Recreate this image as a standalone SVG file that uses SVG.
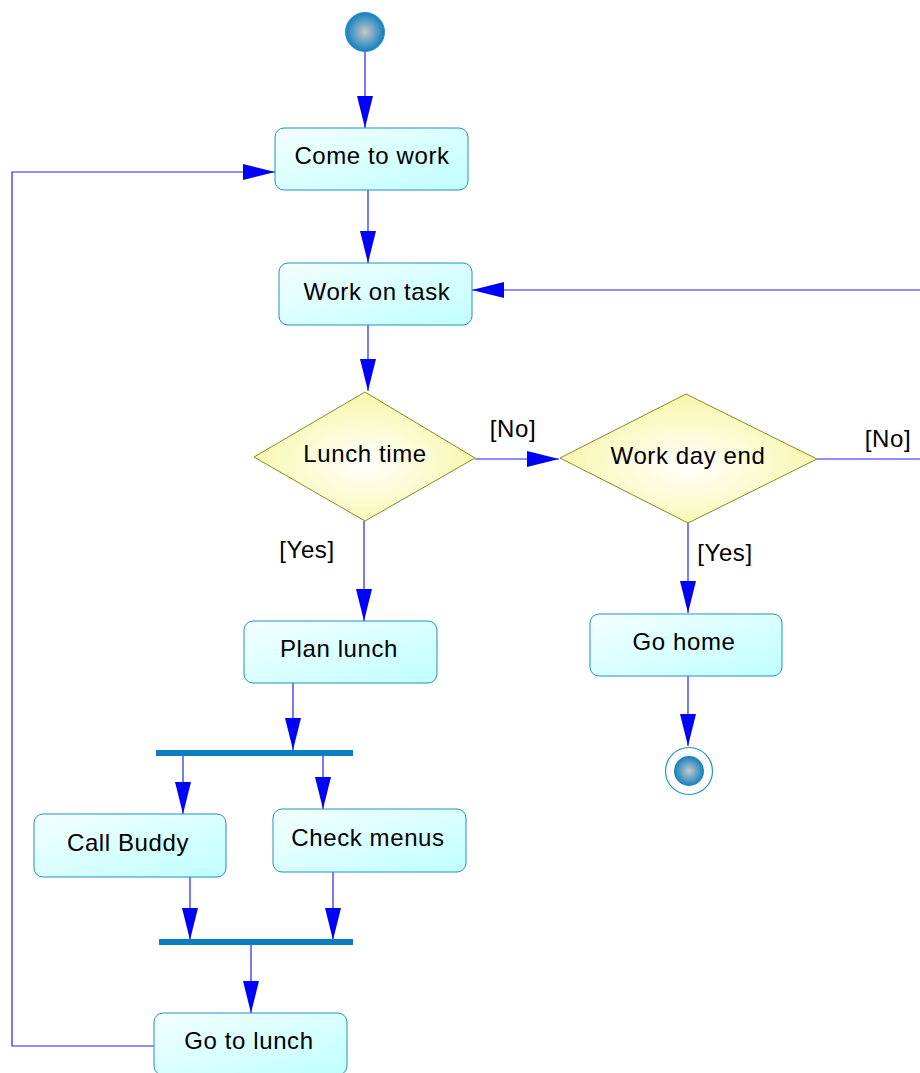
<svg xmlns="http://www.w3.org/2000/svg" width="920" height="1073" viewBox="0 0 920 1073">
<defs>
<linearGradient id="gNode" x1="0" y1="0" x2="1" y2="1">
<stop offset="0" stop-color="#f4ffff"/>
<stop offset="1" stop-color="#c0ffff"/>
</linearGradient>
<radialGradient id="gDia" cx="0.5" cy="0.55" r="0.5">
<stop offset="0" stop-color="#ffffff"/>
<stop offset="1" stop-color="#f8f8b0"/>
</radialGradient>
<radialGradient id="gBall" cx="0.5" cy="0.5" r="0.5">
<stop offset="0" stop-color="#c8c8c8"/>
<stop offset="1" stop-color="#1080c0"/>
</radialGradient>
<marker id="ah" viewBox="0 0 32 16" refX="32" refY="8" markerWidth="32" markerHeight="16" markerUnits="userSpaceOnUse" orient="auto">
<path d="M0,0 L32,8 L0,16 Z" fill="#0000ff"/>
</marker>
</defs>
<style>
.node rect{fill:url(#gNode);stroke:#2090c8;stroke-width:1}
.dia polygon{fill:url(#gDia);stroke:#8a8a20;stroke-width:1}
text{font-family:"Liberation Sans",Arial,sans-serif;font-size:24px;letter-spacing:0.6px;fill:#000;text-anchor:middle}
.conn path{fill:none;stroke:#2020ff;stroke-width:1.2}
.bar{fill:#0a7ec0}
</style>
<g class="conn">
<path d="M365,52 V128" marker-end="url(#ah)"/>
<path d="M368,190 V263" marker-end="url(#ah)"/>
<path d="M368,325 V391" marker-end="url(#ah)"/>
<path d="M475,459 H559" marker-end="url(#ah)"/>
<path d="M817,459 H920"/>
<path d="M920,290 H472" marker-end="url(#ah)"/>
<path d="M364,521 V621" marker-end="url(#ah)"/>
<path d="M688,523 V613" marker-end="url(#ah)"/>
<path d="M688,676 V746" marker-end="url(#ah)"/>
<path d="M293,683 V750" marker-end="url(#ah)"/>
<path d="M183,755 V814" marker-end="url(#ah)"/>
<path d="M323,755 V809" marker-end="url(#ah)"/>
<path d="M190,877 V940" marker-end="url(#ah)"/>
<path d="M333,872 V940" marker-end="url(#ah)"/>
<path d="M251,945 V1013" marker-end="url(#ah)"/>
<path d="M154,1046 H12 V172 H275" marker-end="url(#ah)"/>
<text x="513" y="437">[No]</text>
<text x="888" y="447">[No]</text>
<text x="307" y="558">[Yes]</text>
<text x="725" y="561">[Yes]</text>
</g>
<g id="start">
<circle cx="365" cy="32" r="19.5" fill="url(#gBall)" stroke="#3090d0" stroke-width="1"/>
</g>
<g id="come-to-work" class="node">
<rect x="275" y="128" width="193" height="62" rx="9"/>
<text x="372" y="164">Come to work</text>
</g>
<g id="work-on-task" class="node">
<rect x="279" y="263" width="193" height="62" rx="9"/>
<text x="377" y="300">Work on task</text>
</g>
<g id="lunch-time" class="dia">
<polygon points="254,457 365,392 475,458 365,521"/>
<text x="365" y="462">Lunch time</text>
</g>
<g id="work-day-end" class="dia">
<polygon points="560,458 686,394 817,459 688,523"/>
<text x="688" y="464">Work day end</text>
</g>
<g id="plan-lunch" class="node">
<rect x="244" y="621" width="193" height="62" rx="9"/>
<text x="339" y="657">Plan lunch</text>
</g>
<g id="go-home" class="node">
<rect x="590" y="614" width="192" height="62" rx="9"/>
<text x="684" y="650">Go home</text>
</g>
<g id="end">
<circle cx="689" cy="771" r="23.5" fill="#ffffff" stroke="#2090c8" stroke-width="1.2"/>
<circle cx="689" cy="771" r="15" fill="url(#gBall)"/>
</g>
<g id="fork">
<rect class="bar" x="156" y="750" width="197" height="6"/>
</g>
<g id="call-buddy" class="node">
<rect x="34" y="814" width="192" height="63" rx="9"/>
<text x="128" y="851">Call Buddy</text>
</g>
<g id="check-menus" class="node">
<rect x="273" y="809" width="193" height="63" rx="9"/>
<text x="368" y="846">Check menus</text>
</g>
<g id="join">
<rect class="bar" x="159" y="939" width="194" height="6"/>
</g>
<g id="go-to-lunch" class="node">
<rect x="154" y="1013" width="193" height="62" rx="9"/>
<text x="249" y="1049">Go to lunch</text>
</g>
</svg>
